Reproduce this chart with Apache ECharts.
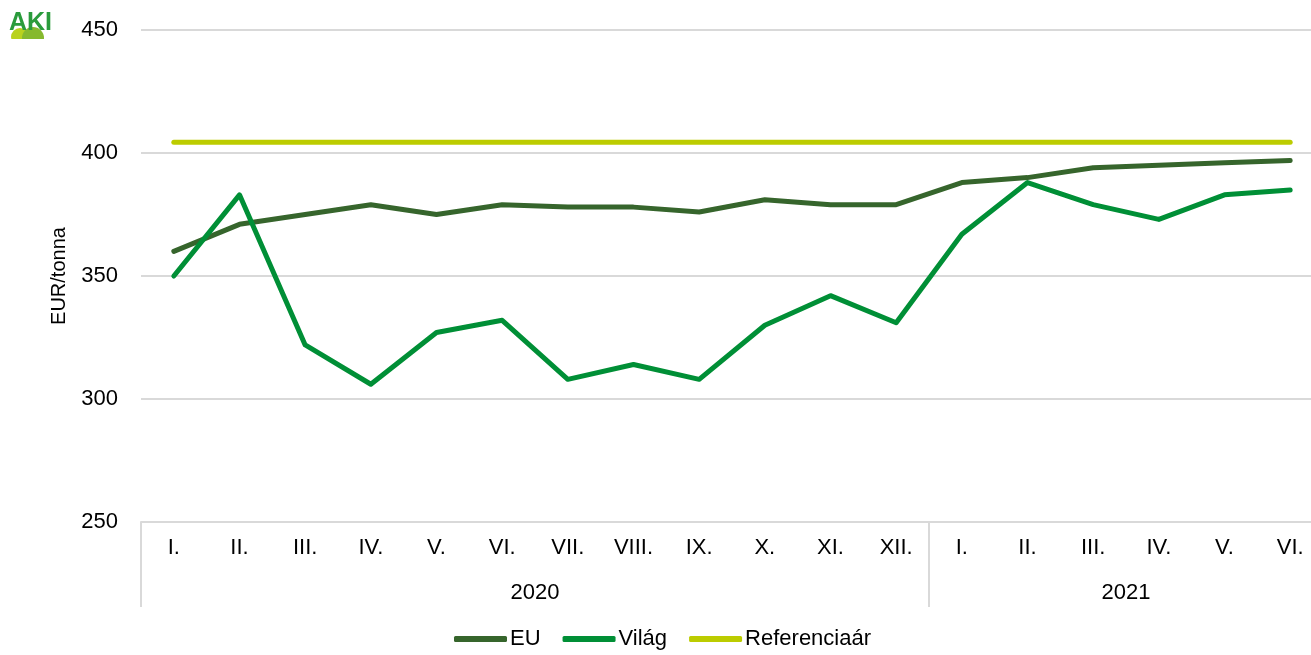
<!DOCTYPE html>
<html>
<head>
<meta charset="utf-8">
<script src="https://cdn.jsdelivr.net/npm/echarts@6/dist/echarts.min.js"></script>
<style>html,body{margin:0;padding:0;background:#fff;overflow:hidden;width:1311px;height:655px}#c{width:1330px;height:655px}</style>
</head>
<body>
<div id="c"></div>
<script>
const months = ['I.','II.','III.','IV.','V.','VI.','VII.','VIII.','IX.','X.','XI.','XII.','I.','II.','III.','IV.','V.','VI.'];
const years = [{label:'2020', start:0, end:12},{label:'2021', start:12, end:18}];
const euValues = [360,371,375,379,375,379,378,378,376,381,379,379,388,390,394,395,396,397];
const vilagValues = [350,383,322,306,327,332,308,314,308,330,342,331,367,388,379,373,383,385];
const refValues = [404.4,404.4,404.4,404.4,404.4,404.4,404.4,404.4,404.4,404.4,404.4,404.4,404.4,404.4,404.4,404.4,404.4,404.4];
const yTicks = {min:250, max:450, interval:50};

const boundaries = years.map(y => y.start);
const yearCenters = {};
years.forEach(y => { yearCenters[(y.start + y.end) / 2] = y.label; });

const chart = echarts.init(document.getElementById('c'));
const font = 'Liberation Sans, Arial, sans-serif';
chart.setOption({
  animation: false,
  grid: {left: 141, top: 30, right: 7, bottom: 133},
  graphic: [
    {type:'circle', shape:{cx:20, cy:37, r:9}, style:{fill:'#b9d21e'}},
    {type:'circle', shape:{cx:33, cy:38, r:11}, style:{fill:'#86b92e'}},
    {type:'rect', shape:{x:0, y:39, width:60, height:14}, style:{fill:'#fff'}},
    {type:'text', left: 9, top: 11, style:{text:'AKI', font:'bold 25px ' + font, fill:'#2a9b3c'}}
  ],
  legend: {
    bottom: 0, left: 449,
    icon: 'roundRect', itemWidth: 53, itemHeight: 6, itemGap: 22,
    textStyle: {fontFamily: font, fontSize: 22, color: '#000', padding:[0,0,0,-2]},
    data: ['EU','Világ','Referenciaár']
  },
  xAxis: [
    {
      type: 'category', data: months, boundaryGap: true, position: 'bottom',
      axisLine: {lineStyle: {color: '#d9d9d9', width: 2}},
      axisTick: {show: true, length: 85, lineStyle: {color: '#d9d9d9', width: 2},
        interval: function(i){ return boundaries.indexOf(i) >= 0; }},
      axisLabel: {fontFamily: font, fontSize: 22, color: '#000', margin: 15, interval: 0}
    },
    {
      type: 'value', min: 0, max: months.length, interval: 0.5, position: 'bottom', offset: 45,
      axisLine: {show: false}, axisTick: {show: false}, splitLine: {show: false},
      axisLabel: {fontFamily: font, fontSize: 22, color: '#000', margin: 15,
        formatter: function(v){ return yearCenters[v] || ''; }}
    }
  ],
  yAxis: {
    type: 'value', min: yTicks.min, max: yTicks.max, interval: yTicks.interval,
    name: 'EUR/tonna', nameLocation: 'middle', nameRotate: 90, nameGap: 72,
    nameTextStyle: {fontFamily: font, fontSize: 20, color: '#000'},
    axisLine: {show: false}, axisTick: {show: false},
    splitLine: {lineStyle: {color: '#d9d9d9', width: 2}},
    axisLabel: {fontFamily: font, fontSize: 22, color: '#000', margin: 23}
  },
  series: [
    {name:'EU', type:'line', data: euValues, xAxisIndex:0, symbol:'none', color:'#36652c',
      lineStyle:{width:5, color:'#36652c', cap:'round', join:'round'}},
    {name:'Világ', type:'line', data: vilagValues, xAxisIndex:0, symbol:'none', color:'#008f36',
      lineStyle:{width:5, color:'#008f36', cap:'round', join:'round'}},
    {name:'Referenciaár', type:'line', data: refValues, xAxisIndex:0, symbol:'none', color:'#bccc00',
      lineStyle:{width:5, color:'#bccc00', cap:'round', join:'round'}}
  ]
});
</script>
</body>
</html>
